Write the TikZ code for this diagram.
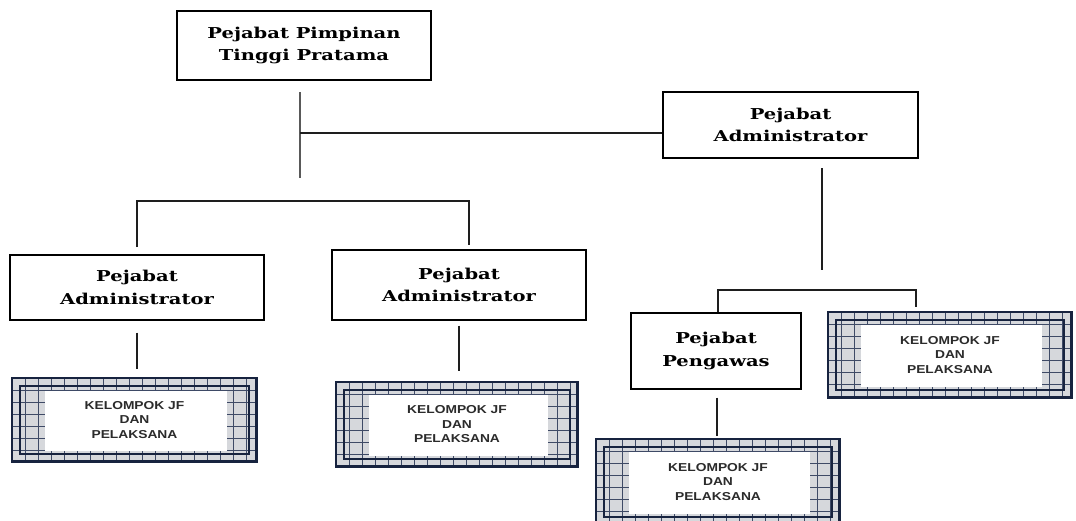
\documentclass[tikz,border=0pt]{standalone}
\usepackage{fontspec}
\newfontfamily\slabfont[FakeStretch=1.3]{DejaVu Serif}
\newfontfamily\gridfont[FakeStretch=1.2]{Liberation Sans}
\usetikzlibrary{calc}
\definecolor{navy}{HTML}{17233F}
\definecolor{cellgray}{HTML}{D6D8DC}
\definecolor{gridline}{HTML}{3E4A66}
\definecolor{wirecol}{HTML}{1E1E1E}
\definecolor{jftext}{HTML}{2B2B2B}

\begin{document}
\begin{tikzpicture}[x=1pt,y=-1pt,
  post/.style={draw=black, line width=1.4pt, fill=white, align=center, inner sep=0pt,
    font=\slabfont\bfseries\fontsize{15}{22.5}\selectfont},
  jfbox/.style={draw=navy, line width=2.5pt, fill=cellgray, align=center, inner sep=0pt,
    font=\gridfont\bfseries\fontsize{11.5}{14.5}\selectfont, text=jftext,
    path picture={
      \coordinate (pnw) at (path picture bounding box.north west);
      \coordinate (pse) at (path picture bounding box.south east);
      % checkered band of the frame
      \foreach \i in {1,...,20}
        \draw[gridline, line width=1pt] ($(pnw)+(\i*13,0)$) -- ++(0,100);
      \foreach \j in {1,...,8}
        \draw[gridline, line width=1pt] ($(pnw)+(0,\j*12)$) -- ++(260,0);
      % inner rule of the frame
      \draw[navy, line width=1.2pt] ($(pnw)+(8,8)$) rectangle ($(pse)+(-8,-8)$);
      % white label panel
      \fill[white] ($(pnw)+(33,13)$) rectangle ($(pse)+(-30,-11)$);
      % heavier right and bottom edges
      \draw[navy, line width=4pt] (pse -| pnw) -- (pse) -- (pse |- pnw);
    }},
  wire/.style={draw=wirecol, line width=1.3pt},
]
\useasboundingbox (0,0) rectangle (1076,520);
\clip (0,0) rectangle (1076,520);

% officials
\node[post, minimum width=254, minimum height=69] (ppt) at (304,45.5) {Pejabat Pimpinan\\Tinggi Pratama};
\node[post, minimum width=255, minimum height=66] (adm0) at (790.5,125) {Pejabat\\Administrator};
\node[post, minimum width=254, minimum height=65] (adm1) at (137,287.5) {Pejabat\\Administrator};
\node[post, minimum width=254, minimum height=70] (adm2) at (459,285) {Pejabat\\Administrator};
\node[post, minimum width=170, minimum height=76] (peng) at (716,351) {Pejabat\\Pengawas};

% functional groups and staff
\node[jfbox, minimum width=245, minimum height=84] (jf1) at (134.5,420) {KELOMPOK JF\\DAN\\PELAKSANA};
\node[jfbox, minimum width=242, minimum height=85] (jf2) at (457,424.5) {KELOMPOK JF\\DAN\\PELAKSANA};
\node[jfbox, minimum width=244, minimum height=86] (jf3) at (950,355) {KELOMPOK JF\\DAN\\PELAKSANA};
\node[jfbox, minimum width=244, minimum height=86] (jf4) at (718,482) {KELOMPOK JF\\DAN\\PELAKSANA};

% main trunk
\coordinate (a1) at (300,92);
\coordinate (a2) at (300,178);
\coordinate (a3) at (300,133);
\draw[wire, draw=black!65, line width=2.2pt] (a1) -- (a2);
\draw[wire] (a3) -- (a3 -| adm0.west);

% left branch
\coordinate (lb) at (137,201);
\coordinate (l1) at (137,247);
\coordinate (l2) at (469,245);
\draw[wire] (l1) -- (lb) -- (lb -| l2) -- (l2);

% right branch
\coordinate (b1) at (822,168);
\coordinate (b2) at (822,270);
\draw[wire] (b1) -- (b2);
\coordinate (pb) at (718,290);
\coordinate (rb) at (916,307);
\draw[wire] (pb |- peng.north) -- (pb) -- (pb -| rb) -- (rb);

% links down to the groups
\draw[wire] ($(adm1.south)+(0,12)$) -- ($(adm1.south |- jf1.north)+(0,-8)$);
\draw[wire] ($(adm2.south)+(0,5)$) -- ($(adm2.south |- jf2.north)+(0,-10)$);
\draw[wire] ($(peng.south)+(1,8)$) -- ($(peng.south |- jf4.north)+(1,-2)$);
\end{tikzpicture}
\end{document}
